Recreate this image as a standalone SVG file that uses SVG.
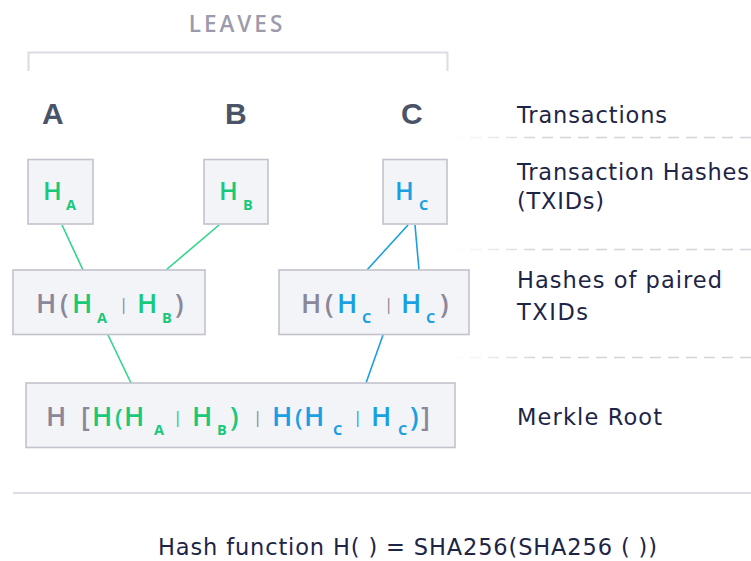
<svg xmlns="http://www.w3.org/2000/svg" width="751" height="561" viewBox="0 0 751 561">
<defs>
<linearGradient id="fade" gradientUnits="userSpaceOnUse" x1="452" y1="0" x2="540" y2="0">
<stop offset="0" stop-color="#d3d3db" stop-opacity="0"/>
<stop offset="1" stop-color="#d3d3db" stop-opacity="1"/>
</linearGradient>
</defs>
<style>
text{font-family:"Open Sans","Liberation Sans",sans-serif}
.box{fill:#f3f4f8;stroke:#c3c2cd;stroke-width:1.6}
.lbl{font-family:"DejaVu Sans","Liberation Sans",sans-serif;font-size:22.5px;fill:#1d2547}
.g{fill:#8b8798}
.gr{fill:#18c978}
.bl{fill:#1a9fe3}
.h0{font-size:25px;font-weight:600}
.h{font-size:27px;font-weight:600}
.pr{font-size:24px;font-weight:600}
.s{font-size:14.5px;font-weight:700}
.p{font-size:17px;font-weight:400}
.leaf{font-family:"Liberation Sans",sans-serif;font-size:30px;font-weight:700;fill:#4a5468}
.cg{stroke:#2fd68a;stroke-width:1.6;fill:none}
.cb{stroke:#1a9fe3;stroke-width:1.6;fill:none}
.dash{stroke:url(#fade);stroke-width:1.6;stroke-dasharray:11 7;fill:none}
</style>
<rect width="751" height="561" fill="#ffffff"/>

<g id="leaves-header">
<text x="237" y="32" text-anchor="middle" font-size="22.5" font-weight="600" letter-spacing="3" fill="#9d9aab">LEAVES</text>
<path d="M28.5 71 V52.5 H447.5 V71" fill="none" stroke="#dcdce3" stroke-width="2"/>
</g>

<g id="guides">
<path class="dash" d="M452 137.5 H751 M452 249.5 H751 M452 357.5 H751"/>
<path d="M13 493 H751" stroke="#dedde5" stroke-width="2" fill="none"/>
</g>

<g id="tx-A"><text class="leaf" x="42" y="124">A</text></g>
<g id="tx-B"><text class="leaf" x="225" y="124">B</text></g>
<g id="tx-C"><text class="leaf" x="401" y="124">C</text></g>

<g id="connectors">
<path class="cg" d="M62 225 L83 270"/>
<path class="cg" d="M219 225 L166 270"/>
<path class="cb" d="M408 225 L367 270"/>
<path class="cb" d="M415 225 L419 270"/>
<path class="cg" d="M108 335 L131 383"/>
<path class="cb" d="M383 335 L366 383"/>
</g>

<g id="hA">
<rect class="box" x="28" y="159.5" width="65" height="64.5"/>
<text class="gr"><tspan class="h0" x="43" y="200">H</tspan><tspan class="s" x="66" y="210">A</tspan></text>
</g>
<g id="hB">
<rect class="box" x="204" y="159.5" width="64" height="64.5"/>
<text class="gr"><tspan class="h0" x="219" y="200">H</tspan><tspan class="s" x="243" y="210">B</tspan></text>
</g>
<g id="hC">
<rect class="box" x="383" y="159.5" width="64" height="64.5"/>
<text class="bl"><tspan class="h0" x="395" y="200">H</tspan><tspan class="s" x="419" y="210">C</tspan></text>
</g>

<g id="hAB">
<rect class="box" x="13" y="270" width="192" height="64.5"/>
<text><tspan class="h g" x="36" y="313">H</tspan><tspan class="h g" x="60" y="313">(</tspan><tspan class="h gr" x="72" y="313">H</tspan><tspan class="s gr" x="97" y="323">A</tspan><tspan class="p g" x="119" y="310">|</tspan><tspan class="h gr" x="137" y="313">H</tspan><tspan class="s gr" x="162" y="323">B</tspan><tspan class="h g" x="175" y="313">)</tspan></text>
</g>

<g id="hCC">
<rect class="box" x="279" y="270" width="190" height="64.5"/>
<text><tspan class="h g" x="301" y="313">H</tspan><tspan class="h g" x="325" y="313">(</tspan><tspan class="h bl" x="337" y="313">H</tspan><tspan class="s bl" x="362" y="323">C</tspan><tspan class="p g" x="384" y="310">|</tspan><tspan class="h bl" x="401" y="313">H</tspan><tspan class="s bl" x="426" y="323">C</tspan><tspan class="h g" x="440" y="313">)</tspan></text>
</g>

<g id="merkle-root">
<rect class="box" x="26" y="383" width="429" height="64.5"/>
<text><tspan class="h g" x="46" y="426">H</tspan><tspan class="h g" x="81" y="426">[</tspan><tspan class="h gr" x="92" y="426">H</tspan><tspan class="pr gr" x="115" y="426">(</tspan><tspan class="h gr" x="124" y="426">H</tspan><tspan class="s gr" x="154" y="435">A</tspan><tspan class="p gr" x="173" y="423">|</tspan><tspan class="h gr" x="192" y="426">H</tspan><tspan class="s gr" x="217" y="435">B</tspan><tspan class="h gr" x="230" y="426">)</tspan><tspan class="p g" x="253" y="423">|</tspan><tspan class="h bl" x="272" y="426">H</tspan><tspan class="pr bl" x="295" y="426">(</tspan><tspan class="h bl" x="304" y="426">H</tspan><tspan class="s bl" x="333" y="435">C</tspan><tspan class="p bl" x="353" y="423">|</tspan><tspan class="h bl" x="371" y="426">H</tspan><tspan class="s bl" x="398" y="435">C</tspan><tspan class="h bl" x="410" y="426">)</tspan><tspan class="h g" x="421" y="426">]</tspan></text>
</g>

<g id="labels">
<text class="lbl" x="517" y="123" textLength="150">Transactions</text>
<text class="lbl" x="517" y="180" textLength="232">Transaction Hashes</text>
<text class="lbl" x="517" y="209" textLength="87">(TXIDs)</text>
<text class="lbl" x="517" y="288" textLength="205">Hashes of paired</text>
<text class="lbl" x="517" y="320" textLength="71">TXIDs</text>
<text class="lbl" x="517" y="425" textLength="145">Merkle Root</text>
</g>

<g id="footnote">
<text class="lbl" x="158" y="555" textLength="499">Hash function H( ) = SHA256(SHA256 ( ))</text>
</g>
</svg>
